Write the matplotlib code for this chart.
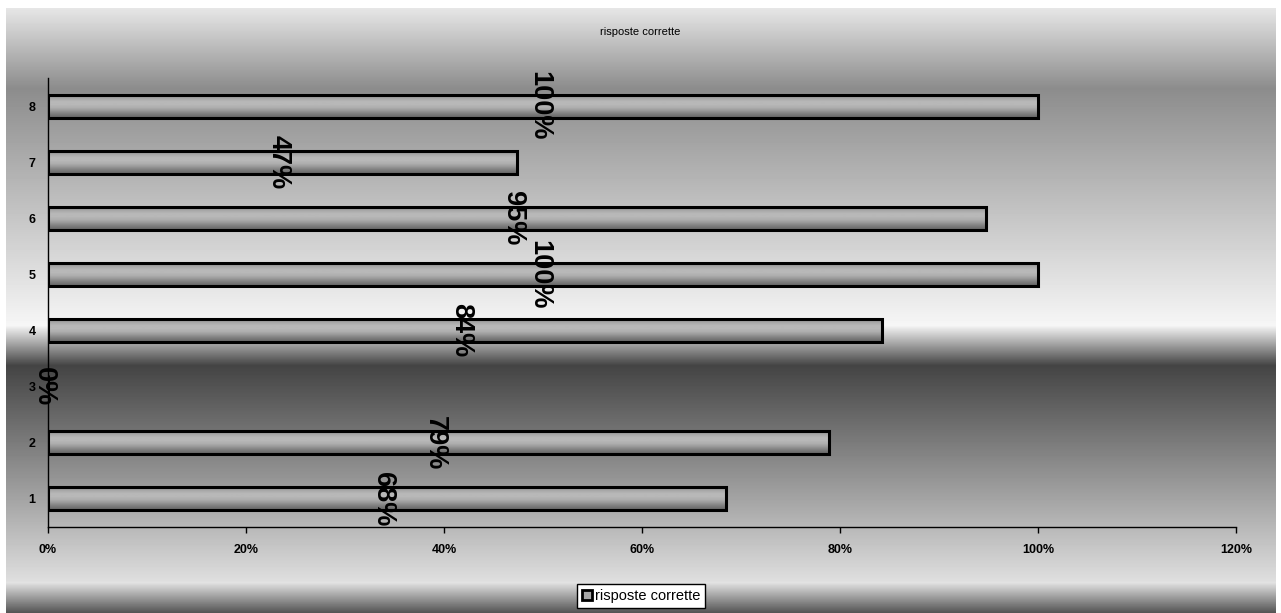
import numpy as np
import matplotlib
matplotlib.use("Agg")
import matplotlib.pyplot as plt
from matplotlib.patches import Patch
from matplotlib.ticker import FuncFormatter

plt.rcParams["font.family"] = ["Liberation Sans", "DejaVu Sans"]

# data
categories = ["1", "2", "3", "4", "5", "6", "7", "8"]
values = [0.685, 0.789, 0.0, 0.842, 1.0, 0.947, 0.474, 1.0]
labels = ["68%", "79%", "0%", "84%", "100%", "95%", "47%", "100%"]
series_name = "risposte corrette"
title = "risposte corrette"

W, H = 1281, 613
fig = plt.figure(figsize=(W / 100, H / 100), dpi=100)
fig.patch.set_facecolor("white")

# background: banded vertical gray gradients (pixel rows from top)
rows = np.arange(H)
ky = [8, 88, 325, 328, 365, 580, 582, 613]
kv = [230, 140, 246, 232, 68, 222, 226, 80]
prof = np.interp(rows, ky, kv) / 255.0
bg = np.repeat(prof[:, None], W, axis=1)
bg[:8, :] = 1.0
bg[:, :6] = 1.0
bg[:, 1276:] = 1.0
bgax = fig.add_axes([0, 0, 1, 1], zorder=-10)
bgax.imshow(bg, cmap="gray", vmin=0, vmax=1, aspect="auto",
            extent=(0, W, H, 0), interpolation="bilinear")
bgax.axis("off")

ax = fig.add_axes([48 / W, 86 / H, 1188 / W, 449 / H])
ax.patch.set_alpha(0)

y = np.arange(1, len(categories) + 1)
bars = ax.barh(y, values, height=0.41, color="#9a9a9a",
               edgecolor="black", linewidth=2.2, zorder=3)

# cylinder-like shading inside each bar
shade = np.array([0.42, 0.50, 0.60, 0.68, 0.72, 0.72, 0.66, 0.56])[:, None]
for b in bars:
    if b.get_width() <= 0:
        continue
    x0, y0 = b.get_x(), b.get_y()
    im = ax.imshow(shade, cmap="gray", vmin=0, vmax=1, aspect="auto",
                   extent=(x0, x0 + b.get_width(), y0, y0 + b.get_height()),
                   origin="lower", interpolation="bilinear", zorder=2.5)
    im.set_clip_path(b)
    b.set_facecolor("none")

for b, lab in zip(bars, labels):
    ax.text(b.get_width() / 2 - 0.004, b.get_y() + b.get_height() / 2, lab,
            rotation=270, ha="center", va="center",
            fontsize=19.5, fontweight="bold", color="black", zorder=5)

ax.set_xlim(0, 1.2)
ax.set_ylim(0.5, len(categories) + 0.5)
ax.set_xticks(np.arange(0, 1.21, 0.2))
ax.xaxis.set_major_formatter(FuncFormatter(lambda v, p: f"{v * 100:.0f}%"))
ax.set_yticks(y)
ax.set_yticklabels(categories)
for s in ["top", "right"]:
    ax.spines[s].set_visible(False)
for s in ["left", "bottom"]:
    ax.spines[s].set_linewidth(1.0)
    ax.spines[s].set_color("black")
ax.tick_params(axis="x", length=4, width=1, pad=8, labelsize=9)
ax.tick_params(axis="y", length=0, pad=9, labelsize=9)
for t in ax.get_xticklabels() + ax.get_yticklabels():
    t.set_fontweight("bold")

fig.text(0.5, 1 - 32 / H, title, ha="center", va="center", fontsize=8)

leg = fig.legend(handles=[Patch(facecolor="#a8a8a8", edgecolor="black", linewidth=2)],
                 labels=[series_name], loc="center", bbox_to_anchor=(641 / W, 17 / H),
                 fontsize=10.5, frameon=True, fancybox=False, handlelength=0.7,
                 handleheight=0.7, handletextpad=0.2, borderpad=0.35,
                 borderaxespad=0)
leg.get_frame().set_edgecolor("black")
leg.get_frame().set_linewidth(1)
leg.get_frame().set_alpha(1)

fig.savefig("out.png", dpi=100)
